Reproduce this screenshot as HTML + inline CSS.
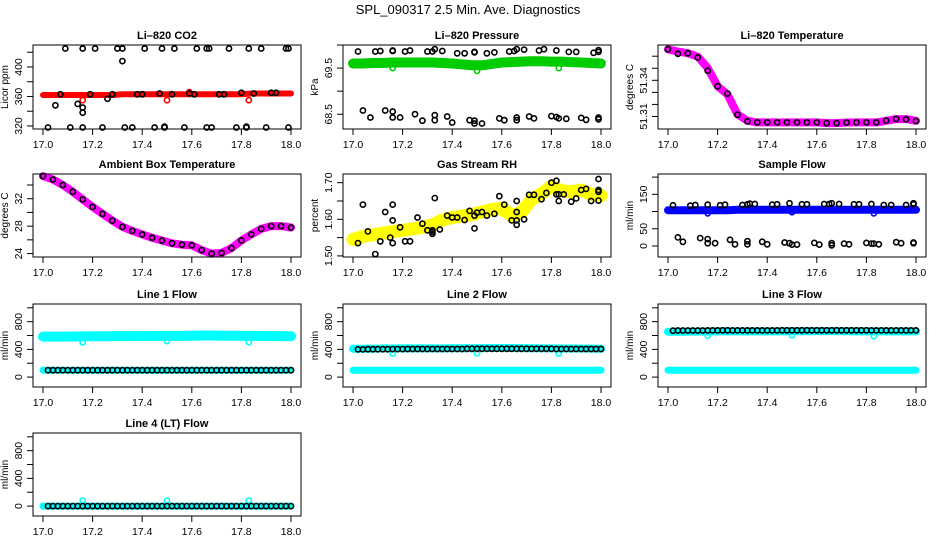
<!DOCTYPE html>
<html><head><meta charset="utf-8"><style>
html,body{margin:0;padding:0;background:#fff;}
svg{display:block;font-family:"Liberation Sans",sans-serif;}
</style></head><body>
<svg id="chart" width="936" height="540" viewBox="0 0 936 540" xmlns="http://www.w3.org/2000/svg">
<rect x="0" y="0" width="936" height="540" fill="#fff"/>
<text x="468" y="14" font-size="13" text-anchor="middle">SPL_090317  2.5 Min. Ave. Diagnostics</text>
</svg>
<script>
// shared x values
const bandX = [17.00,17.04,17.08,17.12,17.16,17.20,17.24,17.28,17.32,17.36,17.40,17.44,17.48,17.52,17.56,17.60,17.64,17.68,17.72,17.76,17.80,17.84,17.88,17.92,17.96,18.00];
const dotX = [17.02,17.04,17.06,17.08,17.10,17.12,17.14,17.16,17.18,17.20,17.22,17.24,17.26,17.28,17.30,17.32,17.34,17.36,17.38,17.40,17.42,17.44,17.46,17.48,17.50,17.52,17.54,17.56,17.58,17.60,17.62,17.64,17.66,17.68,17.70,17.72,17.74,17.76,17.78,17.80,17.82,17.84,17.86,17.88,17.90,17.92,17.94,17.96,17.98,18.00];
const xTicks = [17.0,17.2,17.4,17.6,17.8,18.0];
const xTickLabels = ["17.0","17.2","17.4","17.6","17.8","18.0"];

// CO2
const co2Band = [362,362,362,362,362,362,362,362,363,363,363,363,363,363,363,363,363,363,363,363,363,364,364,364,364,364];
const co2RedOutX = [17.16,17.50,17.59,17.83];
const co2RedOutY = [355,355,366,355];
const co2BlackX = [17.09,17.16,17.21,17.30,17.32,17.41,17.48,17.53,17.62,17.66,17.67,17.75,17.83,17.88,17.98,17.99,17.32,
  17.02,17.11,17.16,17.24,17.33,17.36,17.45,17.49,17.49,17.57,17.66,17.68,17.78,17.82,17.82,17.90,17.99,
  17.05,17.07,17.14,17.16,17.16,17.19,17.26,17.28,17.38,17.40,17.47,17.52,17.59,17.61,17.71,17.73,17.80,17.85,17.92,17.94];
const co2BlackY = [425,425,425,425,425,425,425,425,425,425,425,425,425,425,425,425,408,
  318,318,318,318,318,318,318,318,319,318,318,318,318,318,319,318,318,
  348,363,350,345,338,363,357,363,363,363,364,363,364,363,363,363,365,364,365,365];

// Pressure
const presBand = [69.60,69.60,69.61,69.61,69.62,69.62,69.62,69.62,69.62,69.61,69.60,69.58,69.56,69.56,69.59,69.62,69.63,69.64,69.65,69.65,69.64,69.64,69.63,69.62,69.61,69.60];
const presOutX = [17.16,17.50,17.83];
const presOutY = [69.50,69.44,69.50];
const presBlackX = [17.02,17.09,17.11,17.16,17.16,17.21,17.23,17.30,17.32,17.33,17.36,17.42,17.45,17.49,17.49,17.54,17.57,17.63,17.65,17.66,17.69,17.75,17.77,17.82,17.87,17.90,17.97,17.99,17.99,
  17.04,17.07,17.13,17.16,17.16,17.19,17.25,17.28,17.33,17.33,17.38,17.40,17.47,17.49,17.49,17.52,17.59,17.61,17.66,17.66,17.71,17.73,17.80,17.82,17.83,17.86,17.92,17.94,17.99,17.99];
const presBlackY = [69.86,69.86,69.87,69.88,69.87,69.86,69.88,69.86,69.86,69.91,69.87,69.82,69.82,69.84,69.85,69.82,69.84,69.86,69.87,69.91,69.90,69.88,69.91,69.88,69.85,69.85,69.83,69.85,69.89,
  68.58,68.43,68.58,68.56,68.43,68.43,68.50,68.36,68.48,68.37,68.45,68.32,68.37,68.36,68.30,68.30,68.41,68.37,68.43,68.37,68.45,68.41,68.46,68.44,68.41,68.40,68.42,68.38,68.39,68.43];

// Li-820 Temperature
const tempBand = [51.3657,51.3638,51.3625,51.3597,51.3502,51.3351,51.3283,51.3119,51.3064,51.3051,51.3051,51.3051,51.3051,51.3051,51.3051,51.3051,51.3045,51.3045,51.3050,51.3051,51.3051,51.3051,51.3064,51.3078,51.3078,51.3064];
const tempBlack = [51.3657,51.3620,51.3625,51.3590,51.3480,51.3351,51.3290,51.3115,51.3060,51.3051,51.3051,51.3051,51.3051,51.3051,51.3051,51.3051,51.3045,51.3045,51.3050,51.3051,51.3051,51.3051,51.3066,51.3080,51.3076,51.3062];

// Ambient Box Temperature
const ambBand = [35.3,34.8,34.0,33.0,31.9,30.8,29.8,28.8,27.9,27.3,26.8,26.3,25.9,25.5,25.3,25.2,24.5,24.0,24.1,24.8,25.9,26.8,27.6,28.0,28.0,27.8];

// Gas Stream RH
const rhBand = [1.545,1.553,1.558,1.562,1.566,1.570,1.574,1.578,1.585,1.598,1.605,1.609,1.613,1.620,1.627,1.630,1.610,1.620,1.655,1.670,1.690,1.678,1.675,1.680,1.668,1.665];
const rhBlackX = [17.02,17.04,17.06,17.09,17.11,17.13,17.15,17.16,17.16,17.16,17.19,17.21,17.23,17.26,17.28,17.30,17.32,17.32,17.32,17.33,17.35,17.38,17.40,17.42,17.45,17.47,17.49,17.49,17.50,17.52,17.54,17.57,17.59,17.61,17.64,17.66,17.66,17.66,17.66,17.69,17.71,17.73,17.76,17.78,17.80,17.82,17.82,17.83,17.83,17.85,17.88,17.90,17.92,17.94,17.96,17.99,17.99,17.99,17.99];
const rhBlackY = [1.535,1.640,1.567,1.505,1.540,1.620,1.550,1.640,1.597,1.535,1.578,1.540,1.540,1.605,1.588,1.570,1.570,1.560,1.565,1.658,1.572,1.610,1.605,1.605,1.598,1.623,1.575,1.610,1.618,1.620,1.610,1.615,1.663,1.640,1.597,1.597,1.620,1.650,1.585,1.600,1.667,1.667,1.655,1.672,1.700,1.705,1.668,1.650,1.668,1.668,1.648,1.657,1.680,1.683,1.650,1.710,1.680,1.675,1.651];

// Sample Flow
const sfBand = [104,104,104,104,104,104,104,105,105,105,105,105,105,105,105,105,105,105,105,105,105,105,105,105,105,105];
const sfOutX = [17.16,17.50,17.83];
const sfOutY = [95,98,95];
const sfBlackX = [17.02,17.09,17.11,17.16,17.21,17.23,17.30,17.32,17.33,17.35,17.42,17.44,17.49,17.54,17.56,17.63,17.65,17.66,17.69,17.75,17.77,17.82,17.87,17.90,17.96,17.99,17.99,
  17.04,17.06,17.13,17.16,17.16,17.19,17.25,17.27,17.32,17.32,17.38,17.40,17.47,17.49,17.50,17.52,17.59,17.61,17.66,17.66,17.71,17.73,17.80,17.82,17.83,17.85,17.92,17.94,17.99,17.99];
const sfBlackY = [118,117,119,120,118,120,119,121,123,122,120,121,124,121,121,122,122,124,122,121,121,122,119,119,119,121,124,
  25,12,23,20,8,8,18,5,14,5,12,5,10,8,4,4,9,4,8,2,7,5,9,7,7,5,11,8,8,10];

// Line flows
const l1Upper = [585,585,585,585,588,590,590,592,592,592,593,593,594,594,595,596,600,600,598,597,595,594,593,592,591,590];
const l1Lower = [100,100,100,100,100,100,100,100,100,100,100,100,100,100,100,100,100,100,100,100,100,100,100,100,100,100];
const l1Black = [100,100,100,100,100,100,100,100,100,100,100,100,100,100,100,100,100,100,100,100,100,100,100,100,100,100,100,100,100,100,100,100,100,100,100,100,100,100,100,100,100,100,100,100,100,100,100,100,100,100];
const l1OutX = [17.16,17.50,17.83];
const l1OutY = [500,520,505];

const l2Upper = [410,410,410,412,412,414,414,414,414,414,415,415,415,418,420,420,420,418,416,415,414,413,412,412,411,410];
const l2Lower = [100,100,100,100,100,100,100,100,100,100,100,100,100,100,100,100,100,100,100,100,100,100,100,100,100,100];
const l2Black = [400,400,402,402,402,402,402,404,404,404,405,405,405,405,405,405,406,406,406,406,406,406,408,408,408,408,408,408,408,408,408,408,408,408,408,408,408,408,408,408,406,406,406,406,406,406,406,406,406,406];
const l2OutX = [17.16,17.50,17.83];
const l2OutY = [340,345,340];

const l3Upper = [655,655,657,657,658,660,660,660,660,660,660,660,662,662,662,664,664,664,662,660,660,660,660,660,660,660];
const l3Lower = [100,100,100,100,100,100,100,100,100,100,100,100,100,100,100,100,100,100,100,100,100,100,100,100,100,100];
const l3Black = [670,672,672,672,672,672,672,674,674,674,676,676,674,674,674,674,674,674,674,674,674,674,676,676,676,676,676,676,676,676,676,676,676,676,676,676,676,676,676,676,674,674,674,674,674,674,674,674,674,674];
const l3OutX = [17.16,17.50,17.83];
const l3OutY = [595,605,590];

const l4Band = [0,0,0,0,0,0,0,0,0,0,0,0,0,0,0,0,0,0,0,0,0,0,0,0,0,0];
const l4Black = [0,0,0,0,0,0,0,0,0,0,0,0,0,0,0,0,0,0,0,0,0,0,0,0,0,0,0,0,0,0,0,0,0,0,0,0,0,0,0,0,0,0,0,0,0,0,0,0,0,0];
const l4OutX = [17.16,17.50,17.83];
const l4OutY = [80,80,80];

// tick arrays
const co2Ticks = [320,340,360,380,400,420];
const co2TickLabels = ["320","","360","","400",""];
const presTicks = [68.5,69.0,69.5,70.0];
const presTickLabels = ["68.5","","69.5",""];
const tempTicks = [51.31,51.32,51.33,51.34,51.35,51.36];
const tempTickLabels = ["51.31","","","51.34","",""];
const ambTicks = [24,26,28,30,32,34];
const ambTickLabels = ["24","","28","","32",""];
const rhTicks = [1.50,1.55,1.60,1.65,1.70];
const rhTickLabels = ["1.50","","1.60","","1.70"];
const sfTicks = [0,50,100,150,200];
const sfTickLabels = ["0","50","","150",""];
const flowTicks = [0,200,400,600,800,1000];
const flowTickLabels = ["0","","400","","800",""];

const NS = "http://www.w3.org/2000/svg";
const svg = document.getElementById('chart');
const colL = [33,343,658];
const rowTB = [[45,129],[174,257],[304,387],[433,516]];

function mk(tag, attrs, parent){
  const e = document.createElementNS(NS, tag);
  for (const k in attrs) e.setAttribute(k, attrs[k]);
  (parent||svg).appendChild(e);
  return e;
}

function panel(name, col, row, title, ylab, ymin, ymax, ticks, tickLabels){
  const L = colL[col], T = rowTB[row][0], B = rowTB[row][1];
  const g = mk('g', {});
  
  
  const sx = v => L + 10 + (v - 17) * 248;
  const sy = v => B - (v - ymin) / (ymax - ymin) * (B - T);
  const t = mk('text', {x: L + 134, y: T - 6, 'font-size': 11, 'font-weight': 'bold', 'text-anchor': 'middle'}, g);
  t.textContent = title;
  
  
  const yl = mk('text', {x: 0, y: 0, 'font-size': 10, 'text-anchor': 'middle', transform: `translate(${L-25},${(T+B)/2}) rotate(-90)`}, g);
  yl.textContent = ylab;
  
  
  const plot = mk('g', {}, g);
  
  
  const xa = mk('g', {}, g);
  
  
  xTicks.forEach((v, i) => {
    mk('line', {x1: sx(v), x2: sx(v), y1: B, y2: B + 6, stroke: '#000', 'stroke-width': 1}, xa);
    const tl = mk('text', {x: sx(v), y: B + 19, 'font-size': 10.5, 'text-anchor': 'middle'}, xa);
    tl.textContent = xTickLabels[i];
  });
  const ya = mk('g', {}, g);
  
  
  ticks.forEach((v, i) => {
    const y = sy(v);
    mk('line', {x1: L - 6, x2: L, y1: y, y2: y, stroke: '#000', 'stroke-width': 1}, ya);
    if (tickLabels[i]) {
      const tl = mk('text', {x: 0, y: 0, 'font-size': 10.5, 'text-anchor': 'middle', transform: `translate(${L-11},${y}) rotate(-90)`}, ya);
      tl.textContent = tickLabels[i];
    }
  });
  const box = mk('rect', {x: L, y: T, width: 268, height: B - T, fill: 'none', stroke: '#000', 'stroke-width': 1}, g);
  
  
  return {plot, sx, sy, T, B, L};
}

function band(p, name, xs, ys, color, w){
  const pts = xs.map((x, i) => p.sx(x).toFixed(1) + ',' + p.sy(ys[i]).toFixed(1)).join(' ');
  const e = mk('polyline', {points: pts, fill: 'none', stroke: color, 'stroke-width': w, 'stroke-linejoin': 'round', 'stroke-linecap': 'round'}, p.plot);
  
  
}
function dots(p, name, xs, ys, color){
  const g = mk('g', {}, p.plot);
  
  
  xs.forEach((x, i) => {
    const c = mk('circle', {cx: p.sx(x).toFixed(1), cy: p.sy(ys[i]).toFixed(1), r: 2.6, fill: 'none', stroke: color, 'stroke-width': 1.6}, g);
    
    
  });
}

const FMIN = -143, FMAX = 1055;
let p;
p = panel('co2', 0, 0, 'Li\u2013820 CO2', 'Licor ppm', 315.9, 429.8, co2Ticks, co2TickLabels);
band(p, 'co2-red-band', bandX, co2Band, '#ff0000', 6);
dots(p, 'co2-red-outliers', co2RedOutX, co2RedOutY, '#ff0000');
dots(p, 'co2-black-points', co2BlackX, co2BlackY, '#000');

p = panel('pressure', 1, 0, 'Li\u2013820 Pressure', 'kPa', 68.18, 70.0, presTicks, presTickLabels);
band(p, 'pressure-green-band', bandX, presBand, '#00cc00', 10);
dots(p, 'pressure-green-outliers', presOutX, presOutY, '#00cc00');
dots(p, 'pressure-black-points', presBlackX, presBlackY, '#000');

p = panel('li820-temp', 2, 0, 'Li\u2013820 Temperature', 'degrees C', 51.2996, 51.3693, tempTicks, tempTickLabels);
band(p, 'temp-magenta-band', bandX, tempBand, '#ff00ff', 8);
dots(p, 'temp-black-points', bandX, tempBlack, '#000');

p = panel('ambient-temp', 0, 1, 'Ambient Box Temperature', 'degrees C', 23.5, 35.6, ambTicks, ambTickLabels);
band(p, 'ambient-magenta-band', bandX, ambBand, '#ff00ff', 8);
dots(p, 'ambient-black-points', bandX, ambBand, '#000');

p = panel('rh', 1, 1, 'Gas Stream RH', 'percent', 1.497, 1.7237, rhTicks, rhTickLabels);
band(p, 'rh-yellow-band', bandX, rhBand, '#ffff00', 13);
dots(p, 'rh-black-points', rhBlackX, rhBlackY, '#000');

p = panel('sample-flow', 2, 1, 'Sample Flow', 'ml/min', -32, 209, sfTicks, sfTickLabels);
band(p, 'sample-blue-band', bandX, sfBand, '#0000ff', 8);
dots(p, 'sample-blue-outliers', sfOutX, sfOutY, '#0000ff');
dots(p, 'sample-black-points', sfBlackX, sfBlackY, '#000');

p = panel('line1', 0, 2, 'Line 1 Flow', 'ml/min', FMIN, FMAX, flowTicks, flowTickLabels);
band(p, 'line1-cyan-upper', bandX, l1Upper, '#00ffff', 10);
band(p, 'line1-cyan-lower', bandX, l1Lower, '#00ffff', 7);
dots(p, 'line1-cyan-outliers', l1OutX, l1OutY, '#00ffff');
dots(p, 'line1-black-points', dotX, l1Black, '#000');

p = panel('line2', 1, 2, 'Line 2 Flow', 'ml/min', FMIN, FMAX, flowTicks, flowTickLabels);
band(p, 'line2-cyan-upper', bandX, l2Upper, '#00ffff', 8);
band(p, 'line2-cyan-lower', bandX, l2Lower, '#00ffff', 7);
dots(p, 'line2-cyan-outliers', l2OutX, l2OutY, '#00ffff');
dots(p, 'line2-black-points', dotX, l2Black, '#000');

p = panel('line3', 2, 2, 'Line 3 Flow', 'ml/min', FMIN, FMAX, flowTicks, flowTickLabels);
band(p, 'line3-cyan-upper', bandX, l3Upper, '#00ffff', 8);
band(p, 'line3-cyan-lower', bandX, l3Lower, '#00ffff', 7);
dots(p, 'line3-cyan-outliers', l3OutX, l3OutY, '#00ffff');
dots(p, 'line3-black-points', dotX, l3Black, '#000');

p = panel('line4', 0, 3, 'Line 4 (LT) Flow', 'ml/min', FMIN, FMAX, flowTicks, flowTickLabels);
band(p, 'line4-cyan-band', bandX, l4Band, '#00ffff', 7);
dots(p, 'line4-cyan-outliers', l4OutX, l4OutY, '#00ffff');
dots(p, 'line4-black-points', dotX, l4Black, '#000');
</script>
</body></html>
